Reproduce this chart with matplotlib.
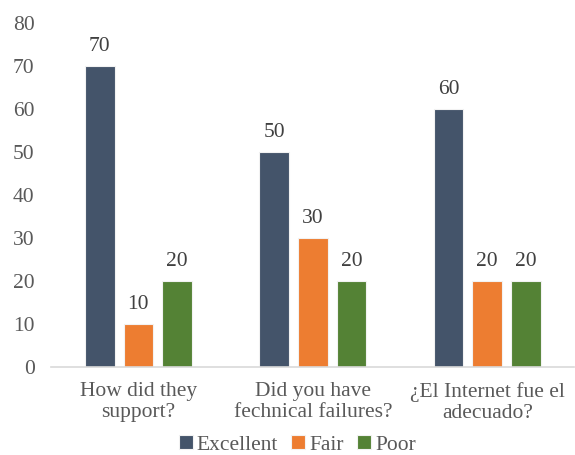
import matplotlib
matplotlib.use("Agg")
import matplotlib.pyplot as plt
import numpy as np

categories = ["How did they\nsupport?", "Did you have\nfechnical failures?", "¿El Internet fue el\nadecuado?"]
series_names = ["Excellent", "Fair", "Poor"]
excellent = [70, 50, 60]
fair = [10, 30, 20]
poor = [20, 20, 20]
yticks = [0, 10, 20, 30, 40, 50, 60, 70, 80]

colors = ["#44546A", "#ED7D31", "#548235"]
text_color = "#595959"
fs = 15.5

plt.rcParams["font.family"] = ["Liberation Serif", "DejaVu Serif"]

fig = plt.figure(figsize=(5.75, 4.55), dpi=100)
ax = fig.add_axes([0.089, 0.193, 0.91, 0.756])

x = np.arange(len(categories))
width = 0.17
step = 0.221
for i, (name, vals) in enumerate(zip(series_names, [excellent, fair, poor])):
    pos = x + (i - 1) * step
    bars = ax.bar(pos, vals, width, color=colors[i], label=name,
                  edgecolor="#F2F2F2", linewidth=0.8)
    for b, v in zip(bars, vals):
        ax.annotate(f"{v}", (b.get_x() + b.get_width() / 2, v),
                    xytext=(0, 7), textcoords="offset points",
                    ha="center", va="bottom", fontsize=fs, color="#404040")

ax.set_xlim(-0.5, 2.5)
ax.set_ylim(0, 80)
ax.set_yticks(yticks)
ax.set_xticks(x)
ax.set_xticklabels(categories, fontsize=fs, color=text_color, linespacing=1.1)
ax.tick_params(axis="y", length=0, pad=12, labelsize=fs, labelcolor=text_color)
ax.tick_params(axis="x", length=0, pad=11)
for s in ["top", "right", "left"]:
    ax.spines[s].set_visible(False)
ax.spines["bottom"].set_color("#D9D9D9")
ax.spines["bottom"].set_linewidth(1.2)

leg = fig.legend(loc="center", bbox_to_anchor=(0.517, 0.022), ncol=3, frameon=False,
                 fontsize=fs, handlelength=0.65, handleheight=0.65,
                 handletextpad=0.2, columnspacing=0.6, borderaxespad=0,
                 borderpad=0.1)
for t in leg.get_texts():
    t.set_color(text_color)

fig.savefig("out.png", dpi=100)
